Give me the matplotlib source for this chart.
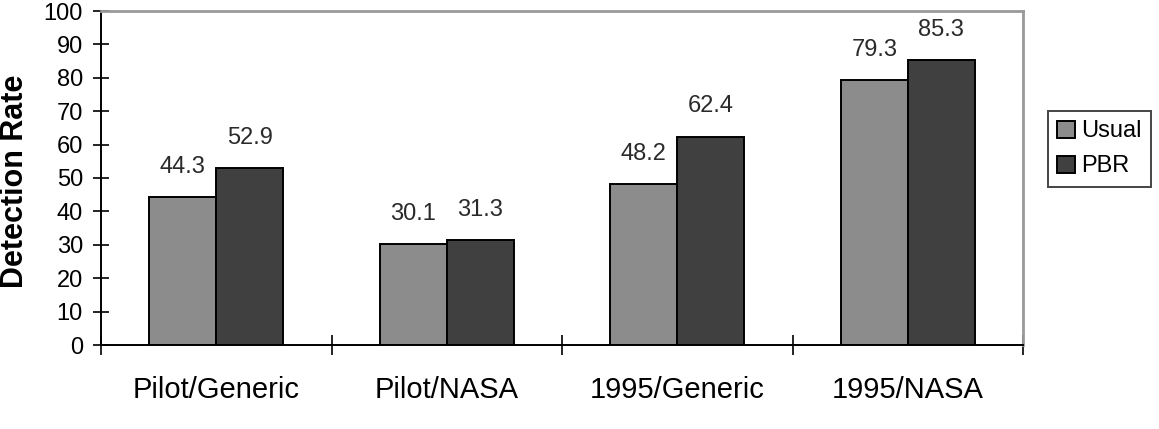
import numpy as np
import matplotlib
matplotlib.use('Agg')
from matplotlib import pyplot as plt

# data
categories = ['Pilot/Generic', 'Pilot/NASA', '1995/Generic', '1995/NASA']
usual = [44.3, 30.1, 48.2, 79.3]
pbr = [52.9, 31.3, 62.4, 85.3]
yticks = list(range(0, 101, 10))

plt.rcParams['font.family'] = ['Liberation Sans', 'DejaVu Sans']

fig = plt.figure(figsize=(11.59, 4.29), dpi=100)
ax = fig.add_axes([101/1159, 1-345/429, 922/1159, 334/429])

x = np.arange(len(categories))
w = 0.29
b1 = ax.bar(x - w/2, usual, w, color='#8c8c8c', edgecolor='black', linewidth=1.4)
b2 = ax.bar(x + w/2, pbr, w, color='#404040', edgecolor='black', linewidth=1.4)
ax.bar_label(b1, fmt='%.1f', padding=14, fontsize=17, color='#2a2a2a')
ax.bar_label(b2, fmt='%.1f', padding=14, fontsize=17, color='#2a2a2a')

ax.set_xlim(-0.5, 3.5)
ax.set_ylim(0, 100)
ax.set_yticks(yticks)
ax.tick_params(axis='y', direction='inout', length=11, width=1.2, labelsize=17, pad=7.5)

# category boundaries as major ticks, names as minor ticks
ax.set_xticks([-0.5, 0.5, 1.5, 2.5, 3.5])
ax.set_xticklabels([])
ax.set_xticks(x, minor=True)
ax.set_xticklabels(categories, minor=True, fontsize=21)
ax.tick_params(axis='x', which='major', direction='inout', length=15, width=1.2)
ax.tick_params(axis='x', which='minor', length=0, pad=22)

ax.spines['left'].set_linewidth(1.4)
ax.spines['bottom'].set_linewidth(1.4)
ax.spines['top'].set_color('#999999')
ax.spines['right'].set_color('#999999')
ax.spines['top'].set_linewidth(2)
ax.spines['right'].set_linewidth(2)

fig.text(15/1159, 1-181/429, 'Detection Rate', rotation=90, fontsize=22,
         fontweight='bold', ha='center', va='center')

leg = fig.legend([b1, b2], ['Usual', 'PBR'], loc='upper left',
                 bbox_to_anchor=(1048/1159, 1-111/429), borderaxespad=0,
                 fontsize=17, handlelength=0.75, handleheight=0.75,
                 handletextpad=0.25, labelspacing=0.55, borderpad=0.4,
                 fancybox=False, framealpha=1)
leg.get_frame().set_edgecolor('#444444')
leg.get_frame().set_linewidth(1.4)

fig.savefig('out.png', dpi=100)
